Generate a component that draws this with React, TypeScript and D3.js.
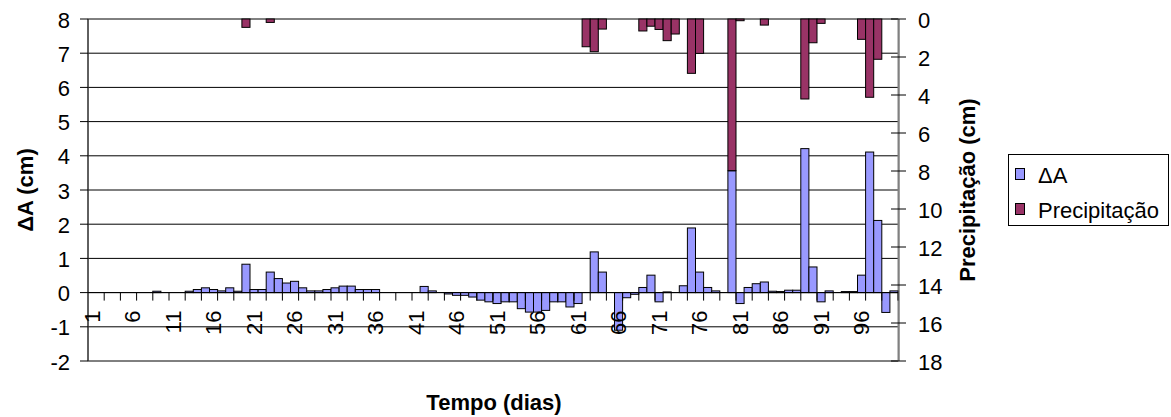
import React from "react";
import * as d3 from "d3";

const days: number[] = Array.from({ length: 100 }, (_, i) => i + 1);

const deltaA: number[] = [
  0, 0, 0, 0, 0, 0, 0, 0, 0.04, 0,
  0, 0, 0.04, 0.09, 0.14, 0.09, 0.05, 0.14, 0.04, 0.83,
  0.09, 0.09, 0.6, 0.41, 0.28, 0.33, 0.14, 0.05, 0.05, 0.09,
  0.14, 0.19, 0.19, 0.09, 0.09, 0.09, 0, 0, 0, 0,
  0, 0.18, 0.05, 0, -0.04, -0.08, -0.08, -0.13, -0.22, -0.27,
  -0.32, -0.27, -0.27, -0.47, -0.57, -0.57, -0.52, -0.27, -0.27, -0.42,
  -0.32, 0, 1.19, 0.6, 0, -1.1, -0.15, -0.05, 0.15, 0.51,
  -0.27, 0.02, 0, 0.2, 1.89, 0.6, 0.15, 0.05, 0, 3.56,
  -0.32, 0.15, 0.26, 0.31, 0.04, 0.03, 0.07, 0.07, 4.21, 0.75,
  -0.27, 0.05, 0, 0.03, 0.03, 0.51, 4.11, 2.11, -0.58, 0.05,
];

const precip: number[] = [
  0, 0, 0, 0, 0, 0, 0, 0, 0, 0,
  0, 0, 0, 0, 0, 0, 0, 0, 0, 0.44,
  0, 0, 0.18, 0, 0, 0, 0, 0, 0, 0,
  0, 0, 0, 0, 0, 0, 0, 0, 0, 0,
  0, 0, 0, 0, 0, 0, 0, 0, 0, 0,
  0, 0, 0, 0, 0, 0, 0, 0, 0, 0,
  0, 1.46, 1.72, 0.53, 0, 0, 0, 0, 0.63, 0.38,
  0.55, 1.14, 0.79, 0, 2.86, 1.81, 0, 0, 0, 7.98,
  0.09, 0, 0, 0.32, 0, 0, 0, 0, 4.21, 1.25,
  0.23, 0, 0, 0, 0, 1.07, 4.12, 2.12, 0, 0,
];

const leftTicks: number[] = [-2, -1, 0, 1, 2, 3, 4, 5, 6, 7, 8];
const rightTicks: number[] = [0, 2, 4, 6, 8, 10, 12, 14, 16, 18];
const dayLabels: number[] = days.filter((d) => (d - 1) % 5 === 0);
const seriesNames: string[] = ["\u0394A", "Precipita\u00e7\u00e3o"];
const seriesColors: string[] = ["#9999FF", "#993366"];

const FONT = "Arial, 'Liberation Sans', sans-serif";
const FS = 22;

export default function App() {
  const x0 = 88, x1 = 898, yTop = 19, yBot = 361;
  const x = d3.scaleBand<number>().domain(days).range([x0, x1]).padding(0);
  const yL = d3.scaleLinear().domain([-2, 8]).range([yBot, yTop]);
  const yR = d3.scaleLinear().domain([0, 18]).range([yTop, yBot]);
  const bw = x.bandwidth();
  const y0 = yL(0);

  return (
    <svg
      width={1171}
      height={417}
      style={{ position: "absolute", left: 0, top: 0, background: "#fff" }}
      fontFamily={FONT}
    >
      <rect x={0} y={0} width={1171} height={417} fill="#fff" />
      {/* gridlines */}
      {leftTicks.map((t) => (
        <line key={"g" + t} x1={x0} x2={x1} y1={yL(t)} y2={yL(t)} stroke="#000" strokeWidth={1} />
      ))}
      {/* plot border */}
      <rect x={x0} y={yTop} width={x1 - x0} height={yBot - yTop} fill="none" stroke="#808080" strokeWidth={1} />

      {/* ΔA bars */}
      {deltaA.map((v, i) =>
        v === 0 ? null : (
          <rect
            key={"a" + i}
            x={x(days[i])}
            width={bw}
            y={Math.min(yL(v), y0)}
            height={Math.abs(yL(v) - y0)}
            fill={seriesColors[0]}
            stroke="#000"
            strokeWidth={1}
          />
        )
      )}
      {/* precipitation bars */}
      {precip.map((v, i) =>
        v === 0 ? null : (
          <rect
            key={"p" + i}
            x={x(days[i])}
            width={bw}
            y={yR(0)}
            height={yR(v) - yR(0)}
            fill={seriesColors[1]}
            stroke="#000"
            strokeWidth={1}
          />
        )
      )}

      {/* category axis */}
      <line x1={x0} x2={x1} y1={y0} y2={y0} stroke="#000" strokeWidth={1} />
      {days
        .filter((d) => d % 2 === 0)
        .map((d) => {
          const xx = (x(d) as number) + bw;
          return <line key={"ct" + d} x1={xx} x2={xx} y1={y0} y2={y0 + 8} stroke="#000" />;
        })}
      {dayLabels.map((d) => {
        const cx = (x(d) as number) + bw / 2;
        const cy = y0 + 18;
        return (
          <text
            key={"cl" + d}
            x={cx}
            y={cy}
            fontSize={FS}
            textAnchor="end"
            dominantBaseline="central"
            transform={`rotate(-90 ${cx} ${cy})`}
            fill="#000"
          >
            {d}
          </text>
        );
      })}

      {/* left axis */}
      <line x1={x0} x2={x0} y1={yTop} y2={yBot} stroke="#000" strokeWidth={1} />
      {leftTicks.map((t) => (
        <g key={"lt" + t}>
          <line x1={x0 - 8} x2={x0} y1={yL(t)} y2={yL(t)} stroke="#000" />
          <text x={70} y={yL(t) + 1} fontSize={FS} textAnchor="end" dominantBaseline="central" fill="#000">
            {t}
          </text>
        </g>
      ))}
      <text
        x={25}
        y={190}
        fontSize={FS}
        fontWeight="bold"
        textAnchor="middle"
        dominantBaseline="central"
        transform="rotate(-90 25 190)"
      >
        {"\u0394A  (cm)"}
      </text>

      {/* right axis */}
      <line x1={899} x2={899} y1={yTop} y2={yBot} stroke="#404040" strokeWidth={1} />
      {rightTicks.map((t) => (
        <g key={"rt" + t}>
          <line x1={891} x2={906} y1={yR(t)} y2={yR(t)} stroke="#000" />
          <text x={918} y={yR(t) + 1} fontSize={FS} textAnchor="start" dominantBaseline="central" fill="#000">
            {t}
          </text>
        </g>
      ))}
      <text
        x={967}
        y={190}
        fontSize={FS}
        fontWeight="bold"
        textAnchor="middle"
        dominantBaseline="central"
        transform="rotate(-90 967 190)"
      >
        {"Precipita\u00e7\u00e3o (cm)"}
      </text>

      {/* x title */}
      <text x={494} y={402} fontSize={FS} fontWeight="bold" textAnchor="middle" dominantBaseline="central">
        Tempo (dias)
      </text>

      {/* legend */}
      <rect x={1008.5} y={154.5} width={160} height={71} fill="#fff" stroke="#000" strokeWidth={1} />
      {seriesNames.map((n, i) => (
        <g key={"lg" + i}>
          <rect x={1015.5} y={168.5 + i * 35} width={9} height={11} fill={seriesColors[i]} stroke="#000" />
          <text x={1038} y={175 + i * 35} fontSize={FS} dominantBaseline="central" fill="#000">
            {n}
          </text>
        </g>
      ))}
    </svg>
  );
}
